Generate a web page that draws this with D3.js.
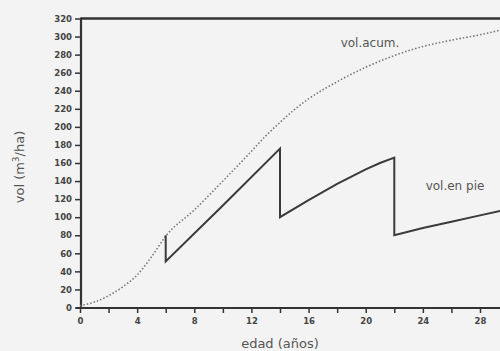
<!DOCTYPE html>
<html>
<head>
<meta charset="utf-8">
<script src="https://cdn.jsdelivr.net/npm/d3@7"></script>
<style>
  body { margin: 0; background: #f3f3f3; }
  svg { display: block; }
</style>
</head>
<body>
<div id="chart"></div>
<script>
// data
var ageAcum = [0, 1, 2, 3, 4, 5, 6, 8, 10, 12, 13, 14, 15, 16, 18, 20, 22, 24, 26, 28, 29.4];
var volAcum = [2, 6, 13, 23, 36, 56, 79, 108, 140, 173, 190, 205, 219, 231, 250, 266, 279, 289, 296, 302, 307];

// vol. en pie, with the three thinnings (6, 14, 22)
var agePie = [6, 6, 10, 14, 14, 16, 18, 19, 20, 21, 22, 22, 24, 26, 28, 29.4];
var volPie = [80, 51, 113, 176, 100, 119, 137, 145, 153, 160, 166, 80, 88, 95, 102, 107];

var yTicks = [0, 20, 40, 60, 80, 100, 120, 140, 160, 180, 200, 220, 240, 260, 280, 300, 320];
var xTicks = [0, 2, 4, 6, 8, 10, 12, 14, 16, 18, 20, 22, 24, 26, 28];
var xLabels = [0, 4, 8, 12, 16, 20, 24, 28];

var width = 500, height = 351;
var margin = { left: 81, top: 18.5, right: 0, bottom: 43 };

var svg = d3.select("#chart").append("svg")
    .attr("width", width)
    .attr("height", height);

var x = d3.scaleLinear()
    .domain([0, 29.4])
    .range([80, width]);

var y = d3.scaleLinear()
    .domain([0, 320])
    .range([307.5, margin.top]);

var ink = "#333";

// y axis
var yAxis = svg.append("g")
    .attr("transform", "translate(" + margin.left + ",0)")
    .call(d3.axisLeft(y).tickValues(yTicks).tickSize(6).tickPadding(3));
yAxis.select(".domain").remove();
yAxis.selectAll("line").attr("stroke", ink).attr("stroke-width", 1.5);
yAxis.selectAll("text")
    .attr("font-family", "DejaVu Sans")
    .attr("font-weight", "bold")
    .attr("font-size", 8.5)
    .attr("fill", "#444");

// x axis
var xAxis = svg.append("g")
    .attr("transform", "translate(0," + 308 + ")")
    .call(d3.axisBottom(x).tickValues(xTicks).tickSize(5).tickPadding(5)
        .tickFormat(function (d) { return xLabels.indexOf(d) >= 0 ? d : ""; }));
xAxis.select(".domain").remove();
xAxis.selectAll("line").attr("stroke", ink).attr("stroke-width", 1.5);
xAxis.selectAll("text")
    .attr("font-family", "DejaVu Sans")
    .attr("font-weight", "bold")
    .attr("font-size", 8.5)
    .attr("fill", "#444");

// frame lines
svg.append("line")
    .attr("x1", margin.left).attr("x2", width)
    .attr("y1", y(320)).attr("y2", y(320))
    .attr("stroke", ink).attr("stroke-width", 2.5);
svg.append("line")
    .attr("x1", margin.left).attr("x2", margin.left)
    .attr("y1", y(320) - 1).attr("y2", 309)
    .attr("stroke", ink).attr("stroke-width", 2.2);
svg.append("line")
    .attr("x1", 76).attr("x2", width)
    .attr("y1", 308).attr("y2", 308)
    .attr("stroke", ink).attr("stroke-width", 2.2);

// vol. acumulado (dotted)
var acum = ageAcum.map(function (d, i) { return [d, volAcum[i]]; });
svg.append("path")
    .datum(acum)
    .attr("fill", "none")
    .attr("stroke", "#777")
    .attr("stroke-width", 1.6)
    .attr("stroke-dasharray", "1.5,2")
    .attr("d", d3.line()
        .x(function (d) { return x(d[0]); })
        .y(function (d) { return y(d[1]); })
        .curve(d3.curveMonotoneX));

// vol. en pie (solid, saw-tooth)
var pie = agePie.map(function (d, i) { return [d, volPie[i]]; });
svg.append("path")
    .datum(pie)
    .attr("fill", "none")
    .attr("stroke", "#3a3a3a")
    .attr("stroke-width", 2)
    .attr("stroke-linejoin", "miter")
    .attr("d", d3.line()
        .x(function (d) { return x(d[0]); })
        .y(function (d) { return y(d[1]); }));

// labels
svg.append("text")
    .attr("x", 370).attr("y", 47)
    .attr("text-anchor", "middle")
    .attr("font-family", "DejaVu Sans")
    .attr("font-size", 12)
    .attr("fill", "#555")
    .text("vol.acum.");

svg.append("text")
    .attr("x", 455).attr("y", 190)
    .attr("text-anchor", "middle")
    .attr("font-family", "DejaVu Sans")
    .attr("font-size", 12)
    .attr("fill", "#555")
    .text("vol.en pie");

svg.append("text")
    .attr("x", 280).attr("y", 348)
    .attr("text-anchor", "middle")
    .attr("font-family", "DejaVu Sans")
    .attr("font-size", 13)
    .attr("fill", "#555")
    .text("edad (años)");

var yt = svg.append("text")
    .attr("transform", "translate(24,167) rotate(-90)")
    .attr("text-anchor", "middle")
    .attr("font-family", "DejaVu Sans")
    .attr("font-size", 13)
    .attr("fill", "#555");
yt.append("tspan").text("vol (m");
yt.append("tspan").attr("font-size", 9).attr("dy", -5).text("3");
yt.append("tspan").attr("dy", 5).text("/ha)");
</script>
</body>
</html>
